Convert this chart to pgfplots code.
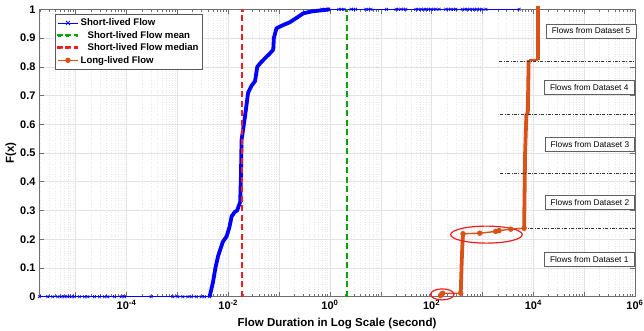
\documentclass[border=0pt]{standalone}
\usepackage{pgfplots}
\pgfplotsset{compat=1.18}
\usepackage{fontspec}
\setmainfont{Liberation Sans}
\definecolor{mblue}{RGB}{0,0,255}
\definecolor{mgreen}{RGB}{0,165,0}
\definecolor{medred}{RGB}{238,30,30}
\definecolor{morange}{RGB}{217,83,25}
\definecolor{axgray}{RGB}{110,110,110}
\begin{document}
\begin{tikzpicture}
\begin{axis}[
  at={(0,0)}, anchor=south west,
  xmode=log, scale only axis, width=596pt, height=287.4pt,
  xmin=1.9e-6, xmax=1e6, ymin=0, ymax=1,
  clip=false,
  xtick={1e-6,1e-5,1e-4,1e-3,1e-2,1e-1,1,1e1,1e2,1e3,1e4,1e5,1e6},
  xticklabels={,,10\textsuperscript{-4},,10\textsuperscript{-2},,10\textsuperscript{0},,10\textsuperscript{2},,10\textsuperscript{4},,10\textsuperscript{6}},
  minor xtick={2e-6,3e-6,4e-6,5e-6,6e-6,7e-6,8e-6,9e-6,
    2e-5,3e-5,4e-5,5e-5,6e-5,7e-5,8e-5,9e-5,
    2e-4,3e-4,4e-4,5e-4,6e-4,7e-4,8e-4,9e-4,
    2e-3,3e-3,4e-3,5e-3,6e-3,7e-3,8e-3,9e-3,
    2e-2,3e-2,4e-2,5e-2,6e-2,7e-2,8e-2,9e-2,
    0.2,0.3,0.4,0.5,0.6,0.7,0.8,0.9,
    2,3,4,5,6,7,8,9,
    20,30,40,50,60,70,80,90,
    200,300,400,500,600,700,800,900,
    2e3,3e3,4e3,5e3,6e3,7e3,8e3,9e3,
    2e4,3e4,4e4,5e4,6e4,7e4,8e4,9e4,
    2e5,3e5,4e5,5e5,6e5,7e5,8e5,9e5},
  ytick={0,0.1,0.2,0.3,0.4,0.5,0.6,0.7,0.8,0.9,1},
  yticklabels={0,0.1,0.2,0.3,0.4,0.5,0.6,0.7,0.8,0.9,1},
  grid=both,
  major grid style={black!11, line width=0.5pt},
  minor grid style={black!9, dotted, line width=0.5pt},
  tick style={axgray, line width=0.5pt},
  major tick length=5pt, minor tick length=3pt,
  axis line style={axgray, line width=0.6pt},
  tick label style={font=\bfseries\fontsize{11}{13}\selectfont},
  xlabel={Flow Duration in Log Scale (second)},
  ylabel={F(x)},
  ylabel style={yshift=-3pt},
  xlabel style={yshift=-1.5pt},
  label style={font=\bfseries\fontsize{11.5}{13}\selectfont},
  legend style={at={(axis description cs:0,1)}, anchor=north west, xshift=16pt, yshift=-4.7pt,
    font=\bfseries\fontsize{9.6}{11}\selectfont, draw=gray!70!black, fill=white,
    row sep=0pt, inner xsep=2pt, inner ysep=2.5pt, cells={anchor=west}},
]
% short-lived flow, zero part
\addplot[mblue, line width=0.6pt, mark=x, mark size=2pt, mark options={solid, line width=0.6pt},
  legend image code/.code={\draw[mblue, line width=0.8pt] (0pt,0pt) -- (20pt,0pt);
    \draw[mblue, line width=0.8pt] (8pt,-2pt) -- (12pt,2pt) (8pt,2pt) -- (12pt,-2pt);}] coordinates {
(1.94e-6,0)(2.83e-6,0)(3.54e-6,0)(4.44e-6,0)(5.19e-6,0)(6.03e-6,0)(7.0e-6,0)(8.15e-6,0)(9.46e-6,0)
(1.19e-5,0)(1.49e-5,0)(1.73e-5,0)(2.34e-5,0)(2.94e-5,0)(3.69e-5,0)(4.29e-5,0)(5.81e-5,0)(7.87e-5,0)(9.14e-5,0)
(3.06e-4,0)(8.15e-4,0)(1.02e-3,0)(1.28e-3,0)(1.61e-3,0)(1.88e-3,0)(2.36e-3,0)(2.95e-3,0)(3.43e-3,0)(4.3e-3,0)};
\addlegendentry{Short-lived Flow}
% short-lived rise (thick)
\addplot[mblue, line width=3.8pt, line join=round, forget plot] coordinates {
(4.3e-3,0)(5.0e-3,0.049)(5.6e-3,0.10)(6.3e-3,0.14)(7.0e-3,0.165)(7.8e-3,0.19)(8.5e-3,0.20)(9.3e-3,0.21)
(1.05e-2,0.24)(1.17e-2,0.28)(1.35e-2,0.295)(1.5e-2,0.30)(1.72e-2,0.33)(1.78e-2,0.42)(1.83e-2,0.545)
(2.13e-2,0.625)(2.46e-2,0.71)(2.9e-2,0.735)(3.37e-2,0.75)(3.73e-2,0.80)(4.4e-2,0.815)(5.3e-2,0.83)
(6.5e-2,0.845)(7.7e-2,0.86)(7.9e-2,0.90)(8.9e-2,0.934)(0.12,0.945)(0.163,0.955)(0.22,0.97)(0.30,0.986)
(0.45,0.993)(0.74,0.997)(1.0,1.0)};
% short-lived top part
\addplot[mblue, line width=0.6pt, mark=x, mark size=2pt, mark options={solid, line width=0.6pt}, forget plot] coordinates {
(0.69,1)(0.8,1)(0.95,1)(1.5,1)(1.7,1)(1.9,1)(2.6,1)(2.9,1)(3.2,1)(5.1,1)(5.7,1)(6.4,1)(13,1)(20,1)(22,1)(25,1)(28,1)(31,1)
(49,1)(55,1)(62,1)(70,1)(78,1)(87,1)(97,1)(110,1)(122,1)(140,1)(190,1)(215,1)(240,1)(270,1)(300,1)(400,1)(450,1)
(500,1)(560,1)(630,1)(700,1)(780,1)(880,1)(980,1)(1170,1)(5250,1)};
% mean
\addplot[color=mgreen, line width=1.5pt, dash pattern=on 6pt off 3.5pt,
  legend image code/.code={\fill[mgreen] (0pt,-0.7pt) rectangle (5pt,0.7pt) (8pt,-0.7pt) rectangle (13pt,0.7pt) (17pt,-0.7pt) rectangle (19pt,0.7pt);}] coordinates {(2.16,0)(2.16,1)};
\addlegendentry{\hspace{7pt}Short-lived Flow mean}
% median
\addplot[color=medred, line width=1.5pt, dash pattern=on 6pt off 3.5pt,
  legend image code/.code={\fill[medred] (0pt,-0.7pt) rectangle (5pt,0.7pt) (8pt,-0.7pt) rectangle (13pt,0.7pt) (17pt,-0.7pt) rectangle (19pt,0.7pt);}] coordinates {(0.0186,0)(0.0186,1)};
\addlegendentry{\hspace{7pt}Short-lived Flow median}
% long-lived flow (legend series)
\addplot[morange, line width=1.4pt, mark=*, mark size=2pt, mark options={solid},
  legend image code/.code={\draw[morange, line width=1.4pt] (0pt,0pt) -- (20pt,0pt);
    \fill[morange] (10pt,0pt) circle (2pt);}] coordinates {
(150,0.004)(158,0.009)(165,0.012)(374,0.012)};
\addlegendentry{Long-lived Flow}
% long-lived thick parts
\addplot[morange, line width=3.8pt, line join=round, forget plot] coordinates {
(374,0.012)(392,0.128)(402,0.175)(415,0.219)};
\addplot[morange, line width=1.4pt, mark=*, mark size=2pt, mark options={solid}, forget plot] coordinates {
(415,0.219)(885,0.221)(1820,0.227)(2120,0.23)(3600,0.235)(6600,0.238)};
\addplot[morange, line width=3.8pt, line join=round, forget plot] coordinates {
(6600,0.238)(6900,0.5)(7300,0.632)(7800,0.64)(8100,0.823)};
\addplot[morange, line width=2pt, forget plot] coordinates {(8100,0.823)(12300,0.823)};
\addplot[morange, line width=3.8pt, forget plot] coordinates {(12300,0.823)(12300,1.01)};
% dash-dot separators
\addplot[black!80, line width=0.6pt, dash pattern=on 3pt off 1.5pt on 0.8pt off 1.5pt, forget plot] coordinates {(6400,0.238)(1e6,0.238)};
\addplot[black!80, line width=0.6pt, dash pattern=on 3pt off 1.5pt on 0.8pt off 1.5pt, forget plot] coordinates {(2250,0.43)(1e6,0.43)};
\addplot[black!80, line width=0.6pt, dash pattern=on 3pt off 1.5pt on 0.8pt off 1.5pt, forget plot] coordinates {(2250,0.635)(1e6,0.635)};
\addplot[black!80, line width=0.6pt, dash pattern=on 3pt off 1.5pt on 0.8pt off 1.5pt, forget plot] coordinates {(2150,0.82)(1e6,0.82)};
% ellipses
\draw[medred, line width=1.2pt] (axis cs:162,0.008) ellipse [x radius=11.7pt, y radius=5.5pt];
\draw[medred, line width=1.2pt] (axis cs:1200,0.216) ellipse [x radius=35.8pt, y radius=8.5pt];
% text boxes
\tikzset{dsbox/.style={draw=gray!75!black, fill=white, line width=0.5pt, font=\fontsize{8.3}{9.5}\selectfont, inner xsep=5.5pt, minimum height=14pt, anchor=center}}
\node[dsbox] at (axis cs:1.37e5,0.925) {Flows from Dataset 5};
\node[dsbox] at (axis cs:1.26e5,0.729) {Flows from Dataset 4};
\node[dsbox] at (axis cs:1.3e5,0.53) {Flows from Dataset 3};
\node[dsbox] at (axis cs:1.3e5,0.328) {Flows from Dataset 2};
\node[dsbox] at (axis cs:1.26e5,0.131) {Flows from Dataset 1};
\end{axis}
\pgfresetboundingbox
\useasboundingbox (-39pt,-34.3pt) rectangle (605pt,296.7pt);
\end{tikzpicture}
\end{document}
